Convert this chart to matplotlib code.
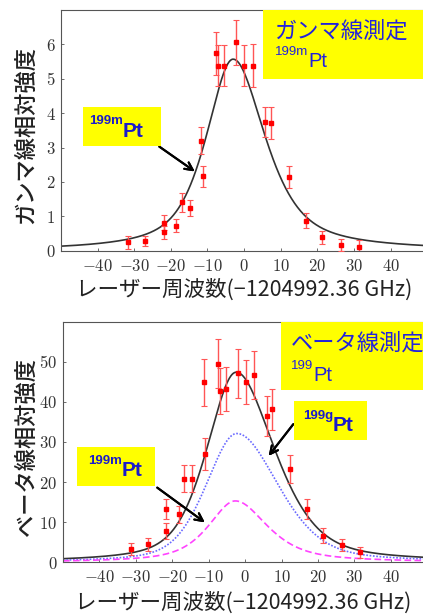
import numpy as np
import matplotlib
matplotlib.use("Agg")
import matplotlib.pyplot as plt
from matplotlib.patches import Rectangle
from matplotlib.ticker import FuncFormatter

plt.rcParams['font.family'] = ['Noto Sans CJK JP', 'DejaVu Sans']
plt.rcParams['mathtext.fontset'] = 'cm'

# gamma-ray measurement (199mPt)
g_x = [-31.6, -27.0, -22.0, -21.9, -18.5, -17.0, -14.8, -11.8, -11.1, -7.65, -7.0,
       -5.4, -2.1, 0.0, 2.3, 5.8, 7.4, 12.2, 16.8, 21.4, 26.5, 31.5]
g_y = [0.24, 0.28, 0.82, 0.53, 0.73, 1.41, 1.24, 3.2, 2.16, 5.74, 5.38,
       5.38, 6.06, 5.38, 5.38, 3.75, 3.72, 2.14, 0.87, 0.39, 0.17, 0.12]
g_err = [0.2, 0.15, 0.22, 0.2, 0.2, 0.27, 0.24, 0.4, 0.31, 0.63, 0.6,
         0.6, 0.65, 0.6, 0.62, 0.44, 0.46, 0.32, 0.22, 0.19, 0.17, 0.2]

# beta-ray measurement (199Pt)
b_x = [-31.3, -26.6, -21.6, -21.6, -18.2, -16.7, -14.5, -11.4, -10.9, -7.4, -6.8,
       -5.2, -1.9, 0.2, 2.5, 5.9, 7.5, 12.3, 16.9, 21.5, 26.5, 31.5]
b_y = [3.3, 4.5, 13.2, 7.8, 12.0, 20.8, 20.8, 44.9, 27.0, 49.5, 42.7,
       43.2, 47.1, 45.0, 46.7, 36.5, 38.1, 23.3, 13.3, 6.6, 4.2, 2.5]
b_err = [1.6, 1.6, 2.5, 2.1, 2.1, 3.4, 3.4, 5.9, 4.0, 6.1, 5.7,
         5.5, 6.1, 5.5, 6.0, 5.0, 5.0, 3.5, 2.5, 1.9, 1.5, 1.4]

# fit line shapes: (centre, amplitude, left hwhm, right hwhm, lorentz fraction)
fit_m_gamma = (-3.0, 5.57, 8.8, 10.5, 0.7)
fit_m_beta = (-2.7, 15.3, 8.8, 10.5, 0.7)
fit_g_beta = (-2.3, 32.1, 10.0, 13.5, 0.4)


def pvoigt(x, p):
    x0, a, wl, wr, eta = p
    w = np.where(x < x0, wl, wr)
    u2 = ((x - x0) / w) ** 2
    return a * (eta / (1 + u2) + (1 - eta) * np.exp(-np.log(2) * u2))


xf = np.linspace(-50, 50, 600)

W, H = 423, 614
fig = plt.figure(figsize=(W / 100, H / 100), dpi=100)


def fx(px):
    return px / W


def fy(py):
    return 1 - py / H


ax1 = fig.add_axes([fx(61), fy(250.7), fx(366.2), 240.7 / H])
ax2 = fig.add_axes([fx(63), fy(562.3), fx(364.3), 240.7 / H])

fmt = FuncFormatter(lambda v, p: r'$%g$' % v)
for ax in (ax1, ax2):
    ax.set_xlim(-50, 50)
    ax.set_xticks(range(-40, 41, 10))
    ax.xaxis.set_major_formatter(fmt)
    ax.yaxis.set_major_formatter(fmt)
    ax.tick_params(direction='in', length=2.5, width=0.6, color='#555555',
                   labelsize=12, labelcolor='#333333')
    ax.tick_params(axis='x', pad=5)
    ax.tick_params(axis='y', pad=4)
    for s in ax.spines.values():
        s.set_color('#555555')
        s.set_linewidth(0.8)

ax1.set_ylim(0, 7)
ax1.set_yticks(range(0, 7))
ax1.plot(xf, pvoigt(xf, fit_m_gamma), color='#333333', lw=1.2, zorder=2)
ax1.errorbar(g_x, g_y, yerr=g_err, fmt='s', ms=3.5, color='#ff0000',
             ecolor='#ff5555', elinewidth=1, capsize=2, capthick=0.8, zorder=3)

ax2.set_ylim(0, 60)
ax2.set_yticks(range(0, 51, 10))
m_curve = pvoigt(xf, fit_m_beta)
g_curve = pvoigt(xf, fit_g_beta)
ax2.plot(xf, g_curve + m_curve, color='#333333', lw=1.2, zorder=2)
ax2.plot(xf, g_curve, color='#6a6aff', lw=1.2, ls=(0, (1, 1)), zorder=2)
ax2.plot(xf, m_curve, color='#ff44ff', lw=1.2, ls=(0, (4, 2)), zorder=2)
ax2.errorbar(b_x, b_y, yerr=b_err, fmt='s', ms=3.5, color='#ff0000',
             ecolor='#ff5555', elinewidth=1, capsize=2, capthick=0.8, zorder=3)

# axis titles
fig.text(fx(26), fy(135), 'ガンマ線相対強度', rotation=90, ha='center', va='center',
         fontsize=16, color='#222222', weight='medium')
fig.text(fx(26), fy(447), 'ベータ線相対強度', rotation=90, ha='center', va='center',
         fontsize=16, color='#222222', weight='medium')
fig.text(fx(244), fy(290), 'レーザー周波数(−1204992.36 GHz)', ha='center', va='center',
         fontsize=15.5, color='#222222')
fig.text(fx(243), fy(603), 'レーザー周波数(−1204992.36 GHz)', ha='center', va='center',
         fontsize=15.5, color='#222222')


def box(x0, y0, x1, y1):
    fig.add_artist(Rectangle((fx(x0), fy(y1)), fx(x1 - x0), (y1 - y0) / H,
                             transform=fig.transFigure, facecolor='#ffff00',
                             edgecolor='none', zorder=5))


def label(x, y, sup, size, sup_size, color, weight):
    fam = ['Liberation Sans', 'DejaVu Sans']
    fig.text(fx(x), fy(y), 'Pt', fontsize=size, color=color, weight=weight,
             ha='left', va='baseline', zorder=6, family=fam)
    fig.text(fx(x), fy(y) + 0.6 * size / 72 * 100 / H, sup, fontsize=sup_size,
             color=color, weight=weight, ha='right', va='baseline', zorder=6,
             family=fam)


blue = '#2222dd'
dblue = '#1a1acc'

# top panel boxes
box(263, 10, 430, 79)
fig.text(fx(274), fy(31), 'ガンマ線測定', fontsize=16, color=blue, ha='left',
         va='center', zorder=6)
label(308, 67, '199m', 14.5, 9.5, blue, 'normal')
box(83, 107, 161, 146)
label(123, 137, '199m', 15, 9.5, dblue, 'bold')
fig.add_artist(plt.annotate('', xy=(fx(197), fy(173)), xytext=(fx(157), fy(145)),
                            xycoords='figure fraction', textcoords='figure fraction',
                            arrowprops=dict(arrowstyle='->', lw=1.5, color='black',
                                            mutation_scale=14)))

# bottom panel boxes
box(281, 322, 430, 390)
fig.text(fx(291), fy(343), 'ベータ線測定', fontsize=16, color=blue, ha='left',
         va='center', zorder=6)
label(313, 381, '199', 14.5, 9.5, blue, 'normal')
box(294, 401, 367, 440)
label(333, 431, '199g', 15, 9.5, dblue, 'bold')
box(77, 447, 155, 486)
label(122, 476, '199m', 15, 9.5, dblue, 'bold')
for (x0, y0, x1, y1) in [(295, 422, 267, 458), (155, 486, 207, 524)]:
    fig.add_artist(plt.annotate('', xy=(fx(x1), fy(y1)), xytext=(fx(x0), fy(y0)),
                                xycoords='figure fraction', textcoords='figure fraction',
                                arrowprops=dict(arrowstyle='->', lw=1.5, color='black',
                                                mutation_scale=14)))

fig.savefig('out.png', dpi=100)
